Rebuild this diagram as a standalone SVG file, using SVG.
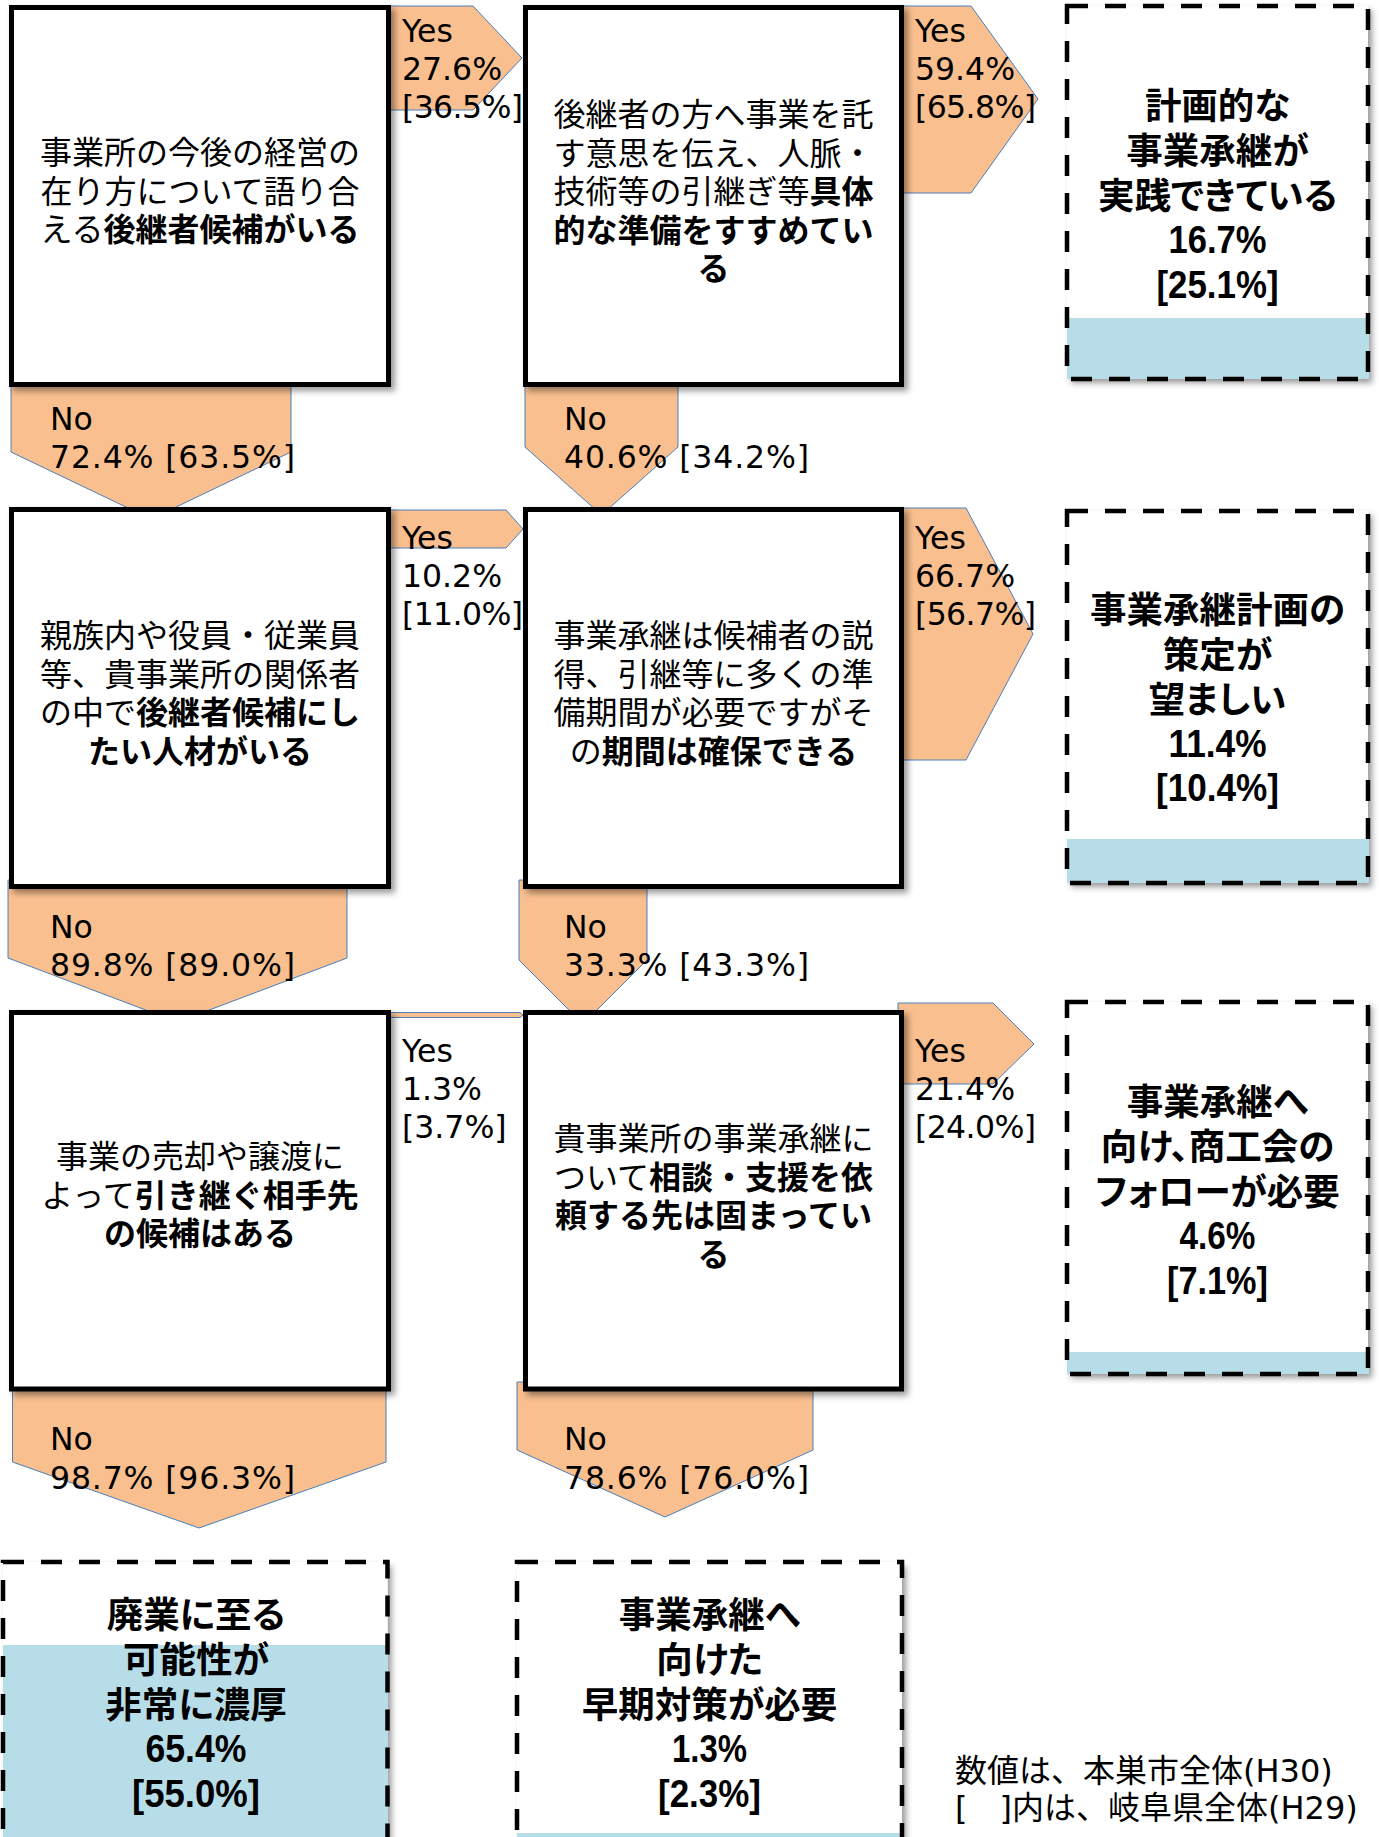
<svg xmlns="http://www.w3.org/2000/svg" width="1379" height="1837" viewBox="0 0 1379 1837">
<defs>
<filter id="sh" x="-10%" y="-10%" width="130%" height="130%">
<feDropShadow dx="4" dy="4" stdDeviation="3" flood-color="#000" flood-opacity="0.4"/>
</filter>
</defs>
<style>
.arrow{fill:#F9BF8F;stroke:#4A7EBB;stroke-width:1}
.box{fill:#fff;stroke:#000;stroke-width:5}
.qt{font-family:"Noto Sans CJK JP",sans-serif;font-size:32px;fill:#000;text-anchor:middle}
.b{font-weight:bold}
.lbl{font-family:"DejaVu Sans","Noto Sans CJK JP",sans-serif;font-size:31.5px;fill:#000}
.rfill{fill:#fff}
.bar{fill:#B7DDE8}
.frame{fill:none;stroke:#000;stroke-width:4.5;stroke-dasharray:21 17}
.rt{font-family:"Noto Sans CJK JP",sans-serif;font-size:36.5px;font-weight:bold;text-anchor:middle;fill:#000;font-feature-settings:"palt"}
.rn{font-family:"Liberation Sans",sans-serif;font-size:38px;font-weight:bold;text-anchor:middle;fill:#000}
.note{font-family:"DejaVu Sans","Noto Sans CJK JP",sans-serif;font-size:32px;fill:#000}
</style>
<rect x="0" y="0" width="1379" height="1837" fill="#fff"/>

<g id="connectors">
<polygon class="arrow" points="389,6 473,6 522,58 473,110 389,110"/>
<polygon class="arrow" points="900,6 971,6 1038,99 971,193 900,193"/>
<polygon class="arrow" points="11,380 291,380 291,452 151,519 11,452"/>
<polygon class="arrow" points="525,380 678,380 678,447 601.5,515 525,447"/>
<polygon class="arrow" points="389,510 506,510 523,529 506,548 389,548"/>
<polygon class="arrow" points="900,508 966,508 1033,634 966,760 900,760"/>
<polygon class="arrow" points="8,880 347,880 347,958 177.5,1022 8,958"/>
<polygon class="arrow" points="519,880 647,880 647,960 583,1024 519,960"/>
<polygon class="arrow" points="389,1012.5 520,1012.5 523,1015 520,1017.5 389,1017.5"/>
<polygon class="arrow" points="898,1003 993,1003 1034,1044 993,1084 898,1084"/>
<polygon class="arrow" points="12.5,1385 386,1385 386,1462 199,1528 12.5,1462"/>
<polygon class="arrow" points="517,1382 813,1382 813,1450 665,1517 517,1450"/>
</g>

<g id="q1">
<rect class="box" x="11.5" y="7.5" width="377" height="377" filter="url(#sh)"/>
<text class="qt" x="200" y="164">事業所の今後の経営の</text>
<text class="qt" x="200" y="202.5">在り方について語り合</text>
<text class="qt" x="200" y="241">える<tspan class="b">後継者候補がいる</tspan></text>
</g>

<g id="q2">
<rect class="box" x="525.5" y="7.5" width="376" height="377" filter="url(#sh)"/>
<text class="qt" x="713.5" y="126">後継者の方へ事業を託</text>
<text class="qt" x="713.5" y="164.5">す意思を伝え、人脈・</text>
<text class="qt" x="713.5" y="203">技術等の引継ぎ等<tspan class="b">具体</tspan></text>
<text class="qt b" x="713.5" y="241.5">的な準備をすすめてい</text>
<text class="qt b" x="713.5" y="280">る</text>
</g>

<g id="q3">
<rect class="box" x="11.5" y="509.5" width="377" height="377" filter="url(#sh)"/>
<text class="qt" x="200" y="647">親族内や役員・従業員</text>
<text class="qt" x="200" y="685.5">等、貴事業所の関係者</text>
<text class="qt" x="200" y="724">の中で<tspan class="b">後継者候補にし</tspan></text>
<text class="qt b" x="200" y="762.5">たい人材がいる</text>
</g>

<g id="q4">
<rect class="box" x="525.5" y="509.5" width="376" height="377" filter="url(#sh)"/>
<text class="qt" x="713.5" y="647">事業承継は候補者の説</text>
<text class="qt" x="713.5" y="685.5">得、引継等に多くの準</text>
<text class="qt" x="713.5" y="724">備期間が必要ですがそ</text>
<text class="qt" x="713.5" y="762.5">の<tspan class="b">期間は確保できる</tspan></text>
</g>

<g id="q5">
<rect class="box" x="11.5" y="1012.5" width="377" height="376.5" filter="url(#sh)"/>
<text class="qt" x="200" y="1168">事業の売却や譲渡に</text>
<text class="qt" x="200" y="1206.5">よって<tspan class="b">引き継ぐ相手先</tspan></text>
<text class="qt b" x="200" y="1245">の候補はある</text>
</g>

<g id="q6">
<rect class="box" x="525.5" y="1012.5" width="376" height="376.5" filter="url(#sh)"/>
<text class="qt" x="713.5" y="1150">貴事業所の事業承継に</text>
<text class="qt" x="713.5" y="1188.5">ついて<tspan class="b">相談・支援を依</tspan></text>
<text class="qt b" x="713.5" y="1227">頼する先は固まってい</text>
<text class="qt b" x="713.5" y="1265.5">る</text>
</g>

<g id="r1">
<rect class="rfill" x="1067" y="6" width="301" height="373" filter="url(#sh)"/>
<rect class="bar" x="1067" y="318" width="302" height="61"/>
<rect class="frame" x="1067" y="6" width="301" height="373"/>
<text class="rt" x="1217.5" y="119">計画的な</text>
<text class="rt" x="1217.5" y="164">事業承継が</text>
<text class="rt" x="1217.5" y="209">実践できている</text>
<text class="rn" x="1217.5" y="253" textLength="98" lengthAdjust="spacingAndGlyphs">16.7%</text>
<text class="rn" x="1217.5" y="298" textLength="122" lengthAdjust="spacingAndGlyphs">[25.1%]</text>
</g>

<g id="r2">
<rect class="rfill" x="1067" y="511" width="301" height="372" filter="url(#sh)"/>
<rect class="bar" x="1067" y="839" width="302" height="44"/>
<rect class="frame" x="1067" y="511" width="301" height="372"/>
<text class="rt" x="1217.5" y="623">事業承継計画の</text>
<text class="rt" x="1217.5" y="668">策定が</text>
<text class="rt" x="1217.5" y="713">望ましい</text>
<text class="rn" x="1217.5" y="757" textLength="98" lengthAdjust="spacingAndGlyphs">11.4%</text>
<text class="rn" x="1217.5" y="801" textLength="123" lengthAdjust="spacingAndGlyphs">[10.4%]</text>
</g>

<g id="r3">
<rect class="rfill" x="1067" y="1002" width="301" height="372" filter="url(#sh)"/>
<rect class="bar" x="1067" y="1352" width="302" height="22"/>
<rect class="frame" x="1067" y="1002" width="301" height="372"/>
<text class="rt" x="1217.5" y="1115">事業承継へ</text>
<text class="rt" x="1217.5" y="1160">向け、商工会の</text>
<text class="rt" x="1217.5" y="1205">フォローが必要</text>
<text class="rn" x="1217.5" y="1249" textLength="76" lengthAdjust="spacingAndGlyphs">4.6%</text>
<text class="rn" x="1217.5" y="1294" textLength="101" lengthAdjust="spacingAndGlyphs">[7.1%]</text>
</g>

<g id="r4">
<rect class="rfill" x="3" y="1562" width="384.5" height="300" filter="url(#sh)"/>
<rect class="bar" x="3" y="1645" width="385" height="200"/>
<rect class="frame" x="3" y="1562" width="384.5" height="300"/>
<text class="rt" x="196" y="1628">廃業に至る</text>
<text class="rt" x="196" y="1673">可能性が</text>
<text class="rt" x="196" y="1718">非常に濃厚</text>
<text class="rn" x="196" y="1762" textLength="101" lengthAdjust="spacingAndGlyphs">65.4%</text>
<text class="rn" x="196" y="1807" textLength="128" lengthAdjust="spacingAndGlyphs">[55.0%]</text>
</g>

<g id="r5">
<rect class="rfill" x="517" y="1562" width="385" height="300" filter="url(#sh)"/>
<rect class="bar" x="517" y="1833" width="385" height="10"/>
<rect class="frame" x="517" y="1562" width="385" height="300"/>
<text class="rt" x="709.5" y="1628">事業承継へ</text>
<text class="rt" x="709.5" y="1673">向けた</text>
<text class="rt" x="709.5" y="1718">早期対策が必要</text>
<text class="rn" x="709.5" y="1762" textLength="75" lengthAdjust="spacingAndGlyphs">1.3%</text>
<text class="rn" x="709.5" y="1807" textLength="103" lengthAdjust="spacingAndGlyphs">[2.3%]</text>
</g>

<g id="connector-labels">
<text class="lbl" x="402" y="42">Yes</text>
<text class="lbl" x="402" y="80">27.6%</text>
<text class="lbl" x="402" y="118" textLength="121">[36.5%]</text>
<text class="lbl" x="915" y="42">Yes</text>
<text class="lbl" x="915" y="80">59.4%</text>
<text class="lbl" x="915" y="118" textLength="121">[65.8%]</text>
<text class="lbl" x="50" y="430">No</text>
<text class="lbl" x="50" y="468" textLength="245">72.4% [63.5%]</text>
<text class="lbl" x="564" y="430">No</text>
<text class="lbl" x="564" y="468" textLength="245">40.6% [34.2%]</text>
<text class="lbl" x="402" y="549">Yes</text>
<text class="lbl" x="402" y="587">10.2%</text>
<text class="lbl" x="402" y="625" textLength="121">[11.0%]</text>
<text class="lbl" x="915" y="549">Yes</text>
<text class="lbl" x="915" y="587">66.7%</text>
<text class="lbl" x="915" y="625" textLength="121">[56.7%]</text>
<text class="lbl" x="50" y="938">No</text>
<text class="lbl" x="50" y="976" textLength="245">89.8% [89.0%]</text>
<text class="lbl" x="564" y="938">No</text>
<text class="lbl" x="564" y="976" textLength="245">33.3% [43.3%]</text>
<text class="lbl" x="402" y="1062">Yes</text>
<text class="lbl" x="402" y="1100">1.3%</text>
<text class="lbl" x="402" y="1138">[3.7%]</text>
<text class="lbl" x="915" y="1062">Yes</text>
<text class="lbl" x="915" y="1100">21.4%</text>
<text class="lbl" x="915" y="1138" textLength="121">[24.0%]</text>
<text class="lbl" x="50" y="1450">No</text>
<text class="lbl" x="50" y="1489" textLength="245">98.7% [96.3%]</text>
<text class="lbl" x="564" y="1450">No</text>
<text class="lbl" x="564" y="1489" textLength="245">78.6% [76.0%]</text>
</g>

<g id="note">
<text class="note" x="955" y="1782">数値は、本巣市全体(H30)</text>
<text class="note" x="955" y="1819">[　]内は、岐阜県全体(H29)</text>
</g>
</svg>
